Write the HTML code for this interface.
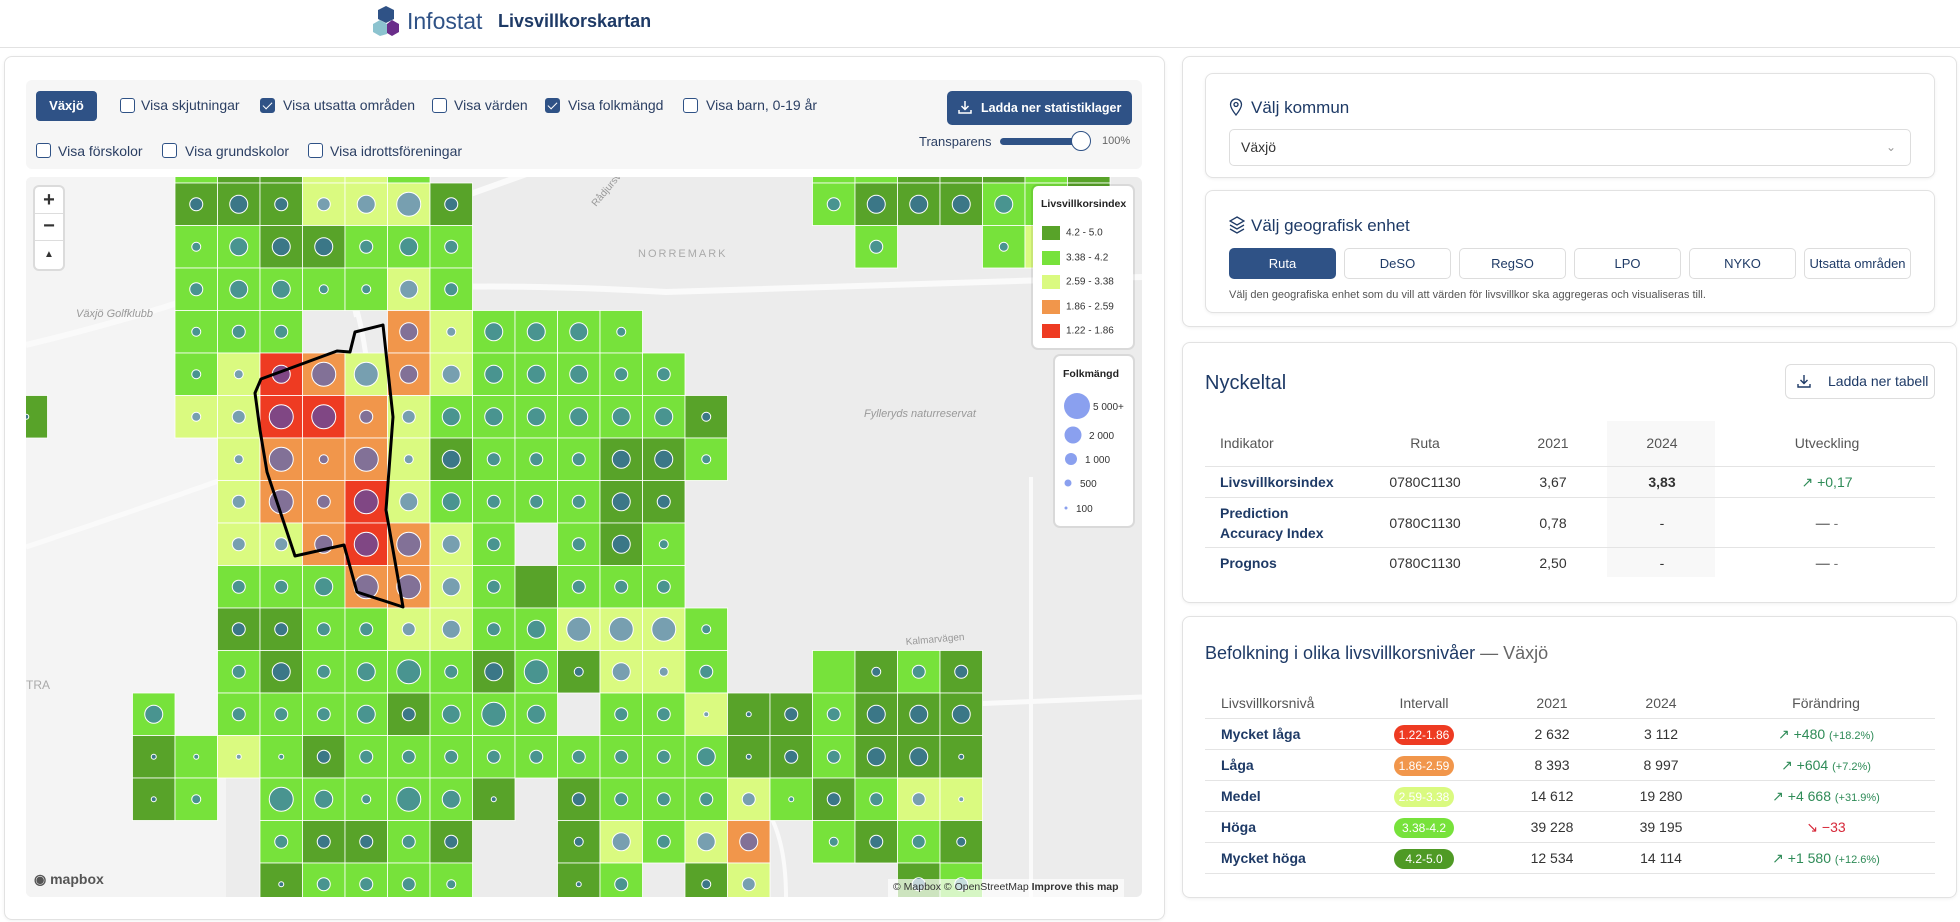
<!DOCTYPE html>
<html><head><meta charset="utf-8">
<style>
*{box-sizing:border-box;margin:0;padding:0}
body{width:1960px;height:922px;background:#fff;font-family:"Liberation Sans",sans-serif;color:#333;position:relative;overflow:hidden}
.abs{position:absolute}
.card{position:absolute;background:#fff;border:1px solid #e2e2e2;border-radius:8px;box-shadow:0 1px 3px rgba(0,0,0,.06)}
.cb{position:absolute;width:15px;height:15px;border:1.5px solid #2f5286;border-radius:3px;background:#fff}
.cb.on{background:#2f5286}
.cb.on::after{content:"";position:absolute;left:4px;top:1px;width:4px;height:8px;border:solid #fff;border-width:0 1.5px 1.5px 0;transform:rotate(45deg)}
.lbl{position:absolute;font-size:14px;color:#2b3f63}
.navy{color:#1e3a66}
.seg{position:absolute;top:248px;height:31px;border:1px solid #ddd;border-radius:5px;font-size:13px;color:#1e3a66;text-align:center;line-height:29px}
.th{position:absolute;font-size:14px;color:#555}
.td{position:absolute;font-size:14px;color:#333}
.rl{position:absolute;font-size:14px;color:#1e3a66;font-weight:bold}
.hl{position:absolute;left:1205px;width:730px;height:1px;background:#e4e4e4}
.pill{position:absolute;width:60px;height:20px;border-radius:10px;color:#fff;font-size:12px;text-align:center;line-height:20px}
.c{text-align:center;transform:translateX(-50%)}
.up{color:#2e8b57}
</style></head><body>

<!-- header -->
<div class="abs" style="left:0;top:0;width:1960px;height:48px;border-bottom:1px solid #e2e2e2"></div>
<svg class="abs" style="left:372px;top:6px" width="32" height="30">
<path d="M14 0 L22 4 L22 13 L14 17 L6 13 L6 4Z" fill="#2f5286"/>
<path d="M8 14 L15 18 L15 28 L8 30 L1 26 L1 18Z" fill="#8cc3cf"/>
<path d="M20 14 L27 18 L27 26 L20 30 L15 27 L15 18Z" fill="#6a2d8a"/>
</svg>
<div class="abs" style="left:407px;top:8px;font-size:23px;color:#2f5286">Infostat</div>
<div class="abs" style="left:498px;top:11px;font-size:18px;font-weight:bold;color:#1e3a66">Livsvillkorskartan</div>

<!-- left panel -->
<div class="card" style="left:4px;top:56px;width:1161px;height:864px"></div>
<div class="abs" style="left:26px;top:80px;width:1116px;height:89px;background:#f6f6f6;border-radius:6px"></div>
<div class="abs" style="left:36px;top:91px;width:61px;height:30px;background:#2f5286;border-radius:4px;color:#fff;font-size:13px;font-weight:bold;text-align:center;line-height:30px">Växjö</div>
<div class="cb" style="left:120px;top:98px"></div><div class="lbl" style="left:141px;top:97px">Visa skjutningar</div>
<div class="cb on" style="left:260px;top:98px"></div><div class="lbl" style="left:283px;top:97px">Visa utsatta områden</div>
<div class="cb" style="left:432px;top:98px"></div><div class="lbl" style="left:454px;top:97px">Visa värden</div>
<div class="cb on" style="left:545px;top:98px"></div><div class="lbl" style="left:568px;top:97px">Visa folkmängd</div>
<div class="cb" style="left:683px;top:98px"></div><div class="lbl" style="left:706px;top:97px">Visa barn, 0-19 år</div>
<div class="cb" style="left:36px;top:143px"></div><div class="lbl" style="left:58px;top:143px">Visa förskolor</div>
<div class="cb" style="left:162px;top:143px"></div><div class="lbl" style="left:185px;top:143px">Visa grundskolor</div>
<div class="cb" style="left:308px;top:143px"></div><div class="lbl" style="left:330px;top:143px">Visa idrottsföreningar</div>
<div class="abs" style="left:947px;top:91px;width:185px;height:34px;background:#2f5286;border-radius:5px;color:#fff;font-size:12.5px;font-weight:bold;line-height:34px;padding-left:34px;white-space:nowrap">Ladda ner statistiklager</div>
<svg class="abs" style="left:958px;top:100px" width="14" height="15"><path d="M7 1v8M3.5 6l3.5 3.5L10.5 6M1 10v3h12v-3" stroke="#fff" stroke-width="1.5" fill="none"/></svg>
<div class="abs" style="left:919px;top:134px;font-size:13px;color:#2b3f63">Transparens</div>
<div class="abs" style="left:1000px;top:138px;width:81px;height:7px;background:#2f5286;border-radius:4px"></div>
<div class="abs" style="left:1071px;top:131px;width:20px;height:20px;background:#fff;border:1.5px solid #2f5286;border-radius:50%"></div>
<div class="abs" style="left:1102px;top:135px;font-size:11px;color:#666">100%</div>

<!-- map -->
<div class="abs" style="left:26px;top:177px;width:1116px;height:720px;border-radius:6px;overflow:hidden;background:#ececec">
<svg id="mapsvg" width="1116" height="720" style="position:absolute;left:0;top:0">
<g fill="#f4f4f4">
<path d="M0 0 H200 V720 H0Z"/>
</g>
<g fill="none" stroke="#fafafa">
<path d="M0 168 Q200 120 380 40 L520 -10" stroke-width="6"/>
<path d="M0 370 Q120 330 260 280" stroke-width="5"/>
<path d="M250 130 Q330 110 420 110 Q520 108 640 115 L1116 100" stroke-width="6"/>
<path d="M330 130 Q350 200 345 330 L340 720" stroke-width="5"/>
<path d="M300 0 L330 140" stroke-width="4"/>
<path d="M870 530 L1116 520" stroke-width="5"/>
<path d="M1005 300 L1005 720" stroke-width="4"/>
<path d="M700 600 Q760 620 760 720" stroke-width="4"/>
</g>
<g id="cells"></g>
<g id="dots"></g>
<polygon points="357,148 367,240 366,253 360,333 377,430 331,415 318,368 269,379 241,295 234,253 229,216 235,202 311,174 324,175 329,155" fill="none" stroke="#000" stroke-width="3" stroke-linejoin="round"/>
<text x="50" y="140" font-size="11" fill="#999" font-style="italic" font-family="Liberation Sans">Växjö Golfklubb</text>
<text x="612" y="80" font-size="11" fill="#aaa" font-family="Liberation Sans" letter-spacing="2">NORREMARK</text>
<text x="838" y="240" font-size="11" fill="#999" font-style="italic" font-family="Liberation Sans">Fylleryds naturreservat</text>
<text x="570" y="30" font-size="10" fill="#999" font-family="Liberation Sans" transform="rotate(-50 570 30)">Rådjursvägen</text>
<text x="880" y="468" font-size="10" fill="#999" font-family="Liberation Sans" transform="rotate(-5 880 468)">Kalmarvägen</text>
<text x="0" y="512" font-size="12" fill="#aaa" font-family="Liberation Sans">TRA</text>
</svg>
<div class="abs" style="left:9px;top:10px;width:28px;height:82px;background:#fff;border-radius:4px;box-shadow:0 0 0 2px rgba(0,0,0,.1)">
<div style="height:27px;text-align:center;font-size:20px;font-weight:bold;line-height:27px;color:#333;border-bottom:1px solid #ddd">+</div>
<div style="height:27px;text-align:center;font-size:20px;font-weight:bold;line-height:25px;color:#333;border-bottom:1px solid #ddd">−</div>
<div style="height:27px;text-align:center;font-size:10px;line-height:27px;color:#333">▲</div>
</div>
<!-- legend -->
<div class="abs" style="left:1007px;top:9px;width:100px;height:162px;background:#fff;border-radius:5px;box-shadow:0 0 0 2px rgba(0,0,0,.08)">
<div style="position:absolute;left:8px;top:12px;font-size:10.5px;font-weight:bold;color:#222">Livsvillkorsindex</div>
<div id="legrows"></div>
</div>
<div class="abs" style="left:1029px;top:179px;width:78px;height:170px;background:#fff;border-radius:5px;box-shadow:0 0 0 2px rgba(0,0,0,.08)">
<div style="position:absolute;left:8px;top:12px;font-size:10.5px;font-weight:bold;color:#222">Folkmängd</div>
<svg width="78" height="170" style="position:absolute;left:0;top:0" font-family="Liberation Sans" font-size="10" fill="#333">
<circle cx="22" cy="50" r="13" fill="#8aa0ef"/><text x="38" y="54">5 000+</text>
<circle cx="18" cy="79" r="8.5" fill="#8aa0ef"/><text x="34" y="83">2 000</text>
<circle cx="16" cy="103" r="6" fill="#8aa0ef"/><text x="30" y="107">1 000</text>
<circle cx="13" cy="127" r="3.5" fill="#8aa0ef"/><text x="25" y="131">500</text>
<circle cx="11" cy="152" r="1.5" fill="#8aa0ef"/><text x="21" y="156">100</text>
</svg>
</div>
<div class="abs" style="left:8px;top:694px;font-size:14px;font-weight:bold;color:#555">◉ mapbox</div>
<div class="abs" style="left:862px;top:702px;height:18px;padding:2px 5px;background:rgba(255,255,255,.7);font-size:10.5px;color:#333">© Mapbox © OpenStreetMap <b>Improve this map</b></div>
</div>

<!-- right column -->
<div class="card" style="left:1182px;top:56px;width:775px;height:271px"></div>
<div class="card" style="left:1205px;top:73px;width:730px;height:105px"></div>
<svg class="abs" style="left:1229px;top:98px" width="14" height="18"><path d="M7 17 C3 12 1.5 9 1.5 6.5 A5.5 5.5 0 0 1 12.5 6.5 C12.5 9 11 12 7 17Z M7 4.5 A2 2 0 1 0 7.01 4.5" fill="none" stroke="#1e3a66" stroke-width="1.3"/></svg>
<div class="abs navy" style="left:1251px;top:98px;font-size:17px">Välj kommun</div>
<div class="abs" style="left:1229px;top:129px;width:682px;height:37px;border:1px solid #ddd;border-radius:5px;font-size:14px;color:#333;line-height:35px;padding-left:11px">Växjö<span style="position:absolute;right:14px;top:0;color:#999;font-size:12px">⌄</span></div>
<div class="card" style="left:1205px;top:190px;width:730px;height:123px"></div>
<svg class="abs" style="left:1229px;top:216px" width="16" height="18"><path d="M8 1 L15 5 L8 9 L1 5Z M1 9 L8 13 L15 9 M1 13 L8 17 L15 13" fill="none" stroke="#1e3a66" stroke-width="1.3"/></svg>
<div class="abs navy" style="left:1251px;top:216px;font-size:17px">Välj geografisk enhet</div>
<div class="seg" style="left:1229px;width:107px;background:#2f5286;color:#fff;border-color:#2f5286">Ruta</div>
<div class="seg" style="left:1344px;width:107px">DeSO</div>
<div class="seg" style="left:1459px;width:107px">RegSO</div>
<div class="seg" style="left:1574px;width:107px">LPO</div>
<div class="seg" style="left:1689px;width:107px">NYKO</div>
<div class="seg" style="left:1804px;width:107px">Utsatta områden</div>
<div class="abs" style="left:1229px;top:289px;font-size:11px;color:#555">Välj den geografiska enhet som du vill att värden för livsvillkor ska aggregeras och visualiseras till.</div>

<!-- Nyckeltal -->
<div class="card" style="left:1182px;top:342px;width:775px;height:261px"></div>
<div class="abs navy" style="left:1205px;top:372px;font-size:20px">Nyckeltal</div>
<div class="abs" style="left:1785px;top:364px;width:150px;height:35px;border:1px solid #ddd;border-radius:6px;font-size:14px;color:#1e3a66;line-height:33px;padding-left:42px">Ladda ner tabell</div>
<svg class="abs" style="left:1797px;top:374px" width="14" height="15"><path d="M7 1v8M3.5 6l3.5 3.5L10.5 6M1 10v3h12v-3" stroke="#1e3a66" stroke-width="1.4" fill="none"/></svg>
<div class="abs" style="left:1607px;top:421px;width:108px;height:156px;background:#f8f8f8"></div>
<div class="th" style="left:1220px;top:435px">Indikator</div>
<div class="th c" style="left:1425px;top:435px">Ruta</div>
<div class="th c" style="left:1553px;top:435px">2021</div>
<div class="th c" style="left:1662px;top:435px">2024</div>
<div class="th c" style="left:1827px;top:435px">Utveckling</div>
<div class="hl" style="top:466px"></div>
<div class="rl" style="left:1220px;top:474px">Livsvillkorsindex</div>
<div class="td c navy" style="left:1425px;top:474px">0780C1130</div>
<div class="td c" style="left:1553px;top:474px">3,67</div>
<div class="td c" style="left:1662px;top:474px;font-weight:bold">3,83</div>
<div class="td c up" style="left:1827px;top:474px">↗ +0,17</div>
<div class="hl" style="top:497px"></div>
<div class="rl" style="left:1220px;top:503px;line-height:20px">Prediction<br>Accuracy Index</div>
<div class="td c navy" style="left:1425px;top:515px">0780C1130</div>
<div class="td c" style="left:1553px;top:515px">0,78</div>
<div class="td c" style="left:1662px;top:515px">-</div>
<div class="td c" style="left:1827px;top:515px;color:#777"><b>—</b> -</div>
<div class="hl" style="top:547px"></div>
<div class="rl" style="left:1220px;top:555px">Prognos</div>
<div class="td c navy" style="left:1425px;top:555px">0780C1130</div>
<div class="td c" style="left:1553px;top:555px">2,50</div>
<div class="td c" style="left:1662px;top:555px">-</div>
<div class="td c" style="left:1827px;top:555px;color:#777"><b>—</b> -</div>

<!-- Befolkning -->
<div class="card" style="left:1182px;top:616px;width:775px;height:282px"></div>
<div class="abs navy" style="left:1205px;top:643px;font-size:18px">Befolkning i olika livsvillkorsnivåer <span style="color:#666">— Växjö</span></div>
<div class="th" style="left:1221px;top:695px">Livsvillkorsnivå</div>
<div class="th c" style="left:1424px;top:695px">Intervall</div>
<div class="th c" style="left:1552px;top:695px">2021</div>
<div class="th c" style="left:1661px;top:695px">2024</div>
<div class="th c" style="left:1826px;top:695px">Förändring</div>
<div class="hl" style="top:718px"></div>
<div id="befrows"></div>

<script>
// ---- map grid data (columns -4..21, rows -1..16) ----
const colOffset = -4;
const rowStart = -1;
const cellColors = [
"....GDDYYG.........GGDDDGD",
"....DDDYYYD........GDDDGGD",
"....GGDDGGG.........G..GY.",
"....GGGGGYG...............",
"....GGG..OYGGGG...........",
"....GYROYOYGGGGG..........",
"D...YYRROYGGGGGGD.........",
".....YOOOYDGGGDDG.........",
".....YOORYGGGGDD..........",
".....YYOROYG.GDG..........",
".....GGGOOYGDGGG..........",
".....DDGGYYGGYYYG.........",
".....GDGGGGDGDYYG..GDGD...",
"...G.GGGGDGGG.GGYDDGDDD...",
"...DGYGDGGGGGGGGGDDGDDD...",
"...DG.GGGGGD.DGGGYGDGYY...",
"......GDDGD..DYGYO.GDGD...",
"......DGGGG..DG.DY...DG..."
];
const cellSizes = [
"00000000000000000000000000",
"00003433453000000003444433",
"00002444343000000000300220",
"00003442243000000000000000",
"00002330042444200000000000",
"00002245544444330000000000",
"10002355334444442000000000",
"00000252524333442000000000",
"00000353544333430000000000",
"00000334554303420000000000",
"00000334554303330000000000",
"00000333334345552000000000",
"00000343453452423000233200",
"00040333434540331133444000",
"00011113333333334133441000",
"00012054254103333313331000",
"00000033333002434402332000",
"00000013332001302300033000"
];
const colorKeys = {D:"#58a329",G:"#77e23b",Y:"#dafa80",O:"#f1964b",R:"#ee3b22"};
const sizeRadius = [0,2.5,4.5,6.5,9,12];
const legendLabels = ["4.2 - 5.0","3.38 - 4.2","2.59 - 3.38","1.86 - 2.59","1.22 - 1.86"];
const legendColors = ["#58a329","#77e23b","#dafa80","#f1964b","#ee3b22"];

const CELL = 42.5, X0 = 149, Y0 = 6;
const xScale = c => X0 + c*CELL;
const yScale = r => Y0 + r*CELL;
const NS = "http://www.w3.org/2000/svg";
const gCells = document.getElementById("cells"), gDots = document.getElementById("dots");
cellColors.forEach((row, ri) => {
  const r = ri + rowStart;
  for (let i = 0; i < row.length; i++) {
    const k = row[i];
    if (!colorKeys[k]) continue;
    const c = i + colOffset;
    const rect = document.createElementNS(NS, "rect");
    rect.setAttribute("x", xScale(c)); rect.setAttribute("y", yScale(r));
    rect.setAttribute("width", CELL); rect.setAttribute("height", CELL);
    rect.setAttribute("fill", colorKeys[k]); rect.setAttribute("stroke", "#fff"); rect.setAttribute("stroke-width", "0.8");
    
    
    gCells.appendChild(rect);
    const s = +cellSizes[ri][i];
    if (s > 0) {
      const ci = document.createElementNS(NS, "circle");
      ci.setAttribute("cx", xScale(c) + CELL/2); ci.setAttribute("cy", yScale(r) + CELL/2);
      ci.setAttribute("r", sizeRadius[s]); ci.setAttribute("fill", "rgba(36,81,216,0.54)");
      ci.setAttribute("stroke", "#fff"); ci.setAttribute("stroke-width", "1");
      
      
      gDots.appendChild(ci);
    }
  }
});
const lr = document.getElementById("legrows");
legendLabels.forEach((t, i) => {
  const d = document.createElement("div");
  
  
  d.style.cssText = "position:absolute;left:9px;top:" + (40 + i*24.5) + "px;font-size:10px;color:#333;white-space:nowrap";
  d.innerHTML = '<span style="display:inline-block;width:18px;height:14px;vertical-align:middle;margin-right:6px;background:' + legendColors[i] + '"></span>' + t;
  lr.appendChild(d);
});

// ---- befolkning table ----
const levels = ["Mycket låga","Låga","Medel","Höga","Mycket höga"];
const intervals = ["1.22-1.86","1.86-2.59","2.59-3.38","3.38-4.2","4.2-5.0"];
const intervalColors = ["#ee3b22","#f1964b","#dafa80","#77e23b","#4f9a25"];
const pop2021 = ["2 632","8 393","14 612","39 228","12 534"];
const pop2024 = ["3 112","8 997","19 280","39 195","14 114"];
const changes = ["+480","+604","+4 668","−33","+1 580"];
const changePct = ["(+18.2%)","(+7.2%)","(+31.9%)","","(+12.6%)"];
const br = document.getElementById("befrows");
levels.forEach((l, i) => {
  const y = 735 + i*31;
  const up = changes[i][0] === "+";
  const h = document.createElement("div");
  
  
  h.innerHTML =
    '<div class="rl" style="left:1221px;top:' + (y-9) + 'px;font-weight:bold">' + l + '</div>' +
    '<div class="pill" style="left:1394px;top:' + (y-10) + 'px;background:' + intervalColors[i] + '">' + intervals[i] + '</div>' +
    '<div class="td c" style="left:1552px;top:' + (y-9) + 'px">' + pop2021[i] + '</div>' +
    '<div class="td c" style="left:1661px;top:' + (y-9) + 'px">' + pop2024[i] + '</div>' +
    '<div class="td c" style="left:1826px;top:' + (y-9) + 'px;white-space:nowrap;color:' + (up ? '#2e8b57' : '#d62839') + '">' + (up ? '↗ ' : '↘ ') + changes[i] + ' <span style="font-size:11px">' + changePct[i] + '</span></div>' +
    '<div class="hl" style="top:' + (y+14) + 'px"></div>';
  br.appendChild(h);
});
</script>
</body></html>
